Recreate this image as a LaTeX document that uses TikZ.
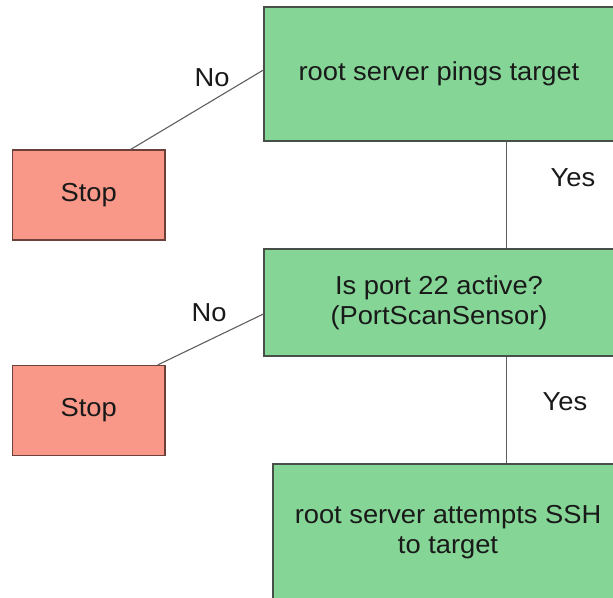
\documentclass[tikz,border=0pt]{standalone}
\usepackage{fontspec}
\setmainfont[FakeStretch=1.05]{Liberation Sans}
\definecolor{boxgreen}{RGB}{133,214,150}
\definecolor{stopred}{RGB}{249,152,136}
\definecolor{edgegray}{RGB}{70,80,72}
\definecolor{linegray}{RGB}{95,95,95}
\begin{document}
\begin{tikzpicture}[x=1pt,y=-1pt,
  every node/.style={font=\fontsize{26}{30}\selectfont, text=black!90, inner sep=0pt},
  greenbox/.style={draw=edgegray, line width=1.2pt, fill=boxgreen, rectangle, align=center, minimum width=350pt},
  stopbox/.style={draw=edgegray!80!red, line width=1.2pt, fill=stopred, rectangle, minimum width=152.5pt, minimum height=90pt},
  conn/.style={draw=linegray, line width=1.1pt},
  lbl/.style={}]
\useasboundingbox (0,0) rectangle (613,597);
\clip (0,0) rectangle (613,597);
\node[greenbox, minimum height=134pt] (box1) at (439,74) {root server pings target};
\node[greenbox, minimum height=107pt] (box2) at (439,302.5) {Is port 22 active?\\(PortScanSensor)};
\node[greenbox, minimum height=136pt] (box3) at (448,532) {root server attempts SSH\\to target};
\node[stopbox] (stop1) at (88.75,195) {Stop};
\node[stopbox] (stop2) at (88.75,410.5) {Stop};
\draw[conn] ([xshift=42pt]stop1.north) -- ([yshift=4pt]box1.west);
\draw[conn] ([xshift=69pt]stop2.north) -- ([yshift=-11.5pt]box2.west);
\draw[conn] ([xshift=67.5pt]box1.south) -- ([xshift=67.5pt]box2.north);
\draw[conn] ([xshift=67.5pt]box2.south) -- ([xshift=58.5pt]box3.north);
\node[lbl] (no1) at (212,78) {No};
\node[lbl] (no2) at (209,313) {No};
\node[lbl] (yes1) at (573,178) {Yes};
\node[lbl] (yes2) at (565,402) {Yes};
\end{tikzpicture}
\end{document}
